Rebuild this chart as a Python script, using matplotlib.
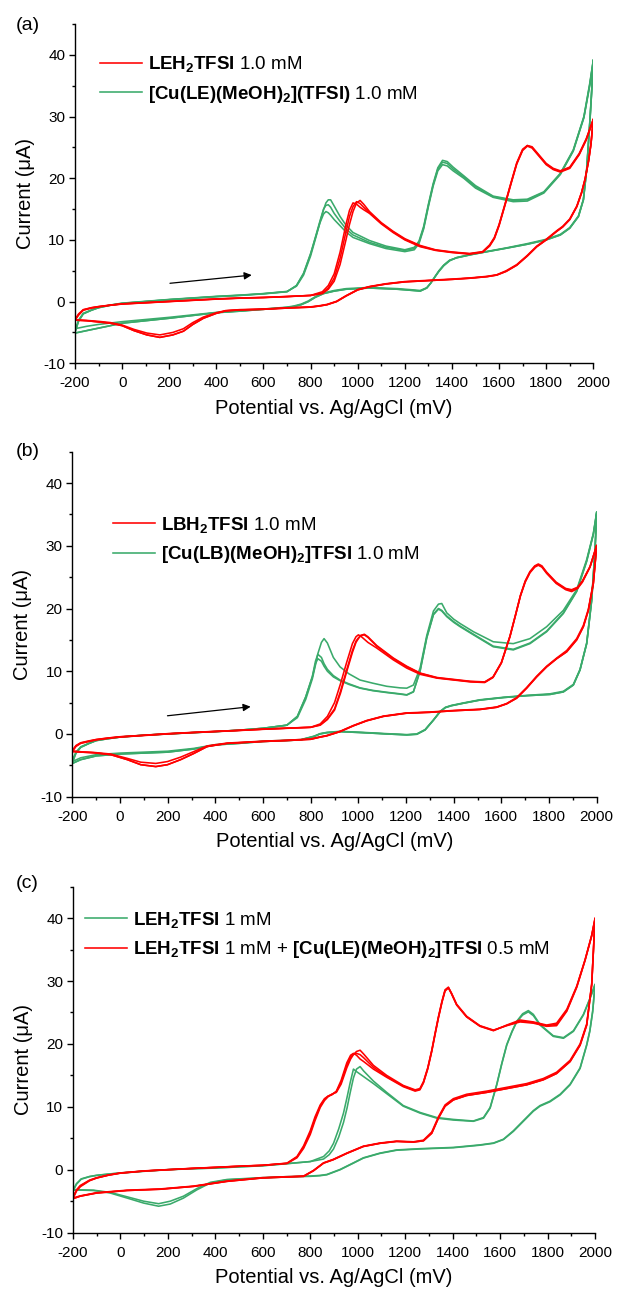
import matplotlib
matplotlib.use('Agg')
import matplotlib.pyplot as plt
from matplotlib.ticker import MultipleLocator

plt.rcParams['font.family'] = ['Liberation Sans', 'DejaVu Sans']
plt.rcParams['mathtext.fontset'] = 'custom'
plt.rcParams['mathtext.rm'] = 'Liberation Sans'
plt.rcParams['mathtext.bf'] = 'Liberation Sans:bold'
plt.rcParams['mathtext.it'] = 'Liberation Sans:italic'
plt.rcParams['axes.unicode_minus'] = False

RED = '#ff0000'
GREEN = '#3aaa6b'

# ---------- panel (a) ----------
A_RED_E_FWD = [-200, -185, -165, -130, -100, -50, 0, 100, 200, 300, 400, 500, 600, 700, 800, 850, 875, 900, 925, 950,
               965, 980, 995, 1010, 1025, 1050, 1100, 1150, 1200, 1265, 1330, 1400, 1475, 1530, 1560, 1580, 1600, 1625,
               1650, 1675, 1700, 1720, 1740, 1760, 1800, 1830, 1860, 1900, 1940, 1970, 2000]
A_RED_I_FWD_1 = [-3.0, -2.2, -1.4, -1.05, -0.85, -0.6, -0.4, -0.2, 0.0, 0.2, 0.4, 0.55, 0.65, 0.8, 1.0,
                 1.6, 2.6, 4.5, 8.0, 12.5, 14.8, 16.0, 15.8, 15.3, 14.9, 14.3, 12.6, 11.2, 10.0, 8.9, 8.3, 7.95, 7.7,
                 8.0, 9.0, 10.2, 12.3, 15.6, 19.0, 22.3, 24.5, 25.2, 24.9, 24.0, 22.2, 21.4, 21.0, 21.6, 23.8, 26.2, 29.5]
A_RED_I_FWD_2 = [-3.0, -2.1, -1.35, -1.0, -0.82, -0.58, -0.38, -0.18, 0.02, 0.22, 0.42, 0.57, 0.67, 0.82, 1.0,
                 1.4, 2.2, 3.8, 7.0, 11.3, 13.8, 15.4, 16.2, 15.9, 15.3, 14.4, 12.7, 11.3, 10.1, 9.0, 8.35, 8.0, 7.75,
                 8.05, 9.1, 10.3, 12.4, 15.7, 19.1, 22.4, 24.6, 25.3, 25.0, 24.1, 22.3, 21.5, 21.1, 21.7, 23.9, 26.3, 29.5]
A_RED_I_FWD_3 = [-2.9, -2.0, -1.3, -0.98, -0.8, -0.56, -0.36, -0.16, 0.04, 0.24, 0.44, 0.58, 0.68, 0.83, 1.0,
                 1.3, 2.0, 3.3, 6.0, 10.0, 12.5, 14.6, 16.0, 16.4, 15.8, 14.6, 12.8, 11.4, 10.2, 9.1, 8.4, 8.05, 7.8,
                 8.1, 9.2, 10.4, 12.5, 15.8, 19.2, 22.5, 24.7, 25.3, 25.1, 24.2, 22.4, 21.6, 21.2, 21.8, 24.0, 26.4, 29.6]
A_RED_E_REV = [2000, 1990, 1980, 1965, 1950, 1930, 1900, 1870, 1845, 1800, 1760, 1720, 1675, 1630, 1590, 1550, 1480,
               1400, 1300, 1200, 1120, 1050, 1000, 950, 910, 870, 840, 800, 700, 600, 500, 440, 400, 345, 300, 260,
               215, 160, 105, 50, 0, -50, -100, -150, -200]
A_RED_I_REV_1 = [29.5, 25.5, 22.8, 19.8, 17.6, 15.4, 13.3, 12.1, 11.4, 10.0, 8.9, 7.4, 5.9, 4.9, 4.3, 4.05, 3.8,
                 3.6, 3.4, 3.2, 2.85, 2.4, 1.9, 0.9, 0.0, -0.5, -0.7, -0.9, -1.05, -1.25, -1.35, -1.5, -1.9, -2.7,
                 -3.7, -4.8, -5.4, -5.8, -5.4, -4.7, -3.9, -3.5, -3.3, -3.1, -3.0]
A_RED_I_REV_2 = [29.6, 25.6, 22.9, 19.9, 17.7, 15.5, 13.4, 12.2, 11.5, 10.1, 9.0, 7.5, 6.0, 5.0, 4.35, 4.1, 3.85,
                 3.65, 3.45, 3.25, 2.9, 2.45, 1.95, 0.95, 0.05, -0.45, -0.65, -0.85, -1.0, -1.2, -1.3, -1.45, -1.8,
                 -2.5, -3.4, -4.4, -5.0, -5.4, -5.1, -4.5, -3.8, -3.4, -3.2, -3.05, -2.95]

A_GRN_E_FWD = [-200, -185, -165, -130, -100, -50, 0, 100, 200, 300, 400, 500, 600, 700, 740, 770, 800, 820, 840, 855,
               865, 875, 885, 900, 925, 950, 980, 1050, 1120, 1200, 1240, 1260, 1280, 1300, 1320, 1340, 1360, 1380,
               1405, 1450, 1500, 1575, 1660, 1720, 1790, 1860, 1915, 1960, 1985, 2000]
A_GRN_I_FWD_1 = [-5.0, -3.2, -2.0, -1.4, -1.0, -0.6, -0.3, 0.0, 0.3, 0.55, 0.8, 1.0, 1.25, 1.6,
                 2.6, 4.6, 7.8, 10.3, 12.8, 14.2, 14.6, 14.4, 14.0, 13.3, 12.3, 11.3, 10.4, 9.4, 8.6, 8.1, 8.4, 9.4,
                 11.8, 15.4, 18.7, 21.2, 22.2, 22.0, 21.2, 20.0, 18.4, 16.9, 16.2, 16.3, 17.6, 20.6, 24.4, 29.8, 35.0, 39.0]
A_GRN_I_FWD_2 = [-4.9, -3.1, -1.95, -1.38, -0.98, -0.58, -0.28, 0.02, 0.32, 0.57, 0.82, 1.02, 1.28, 1.62,
                 2.6, 4.5, 7.7, 10.4, 13.1, 15.0, 15.6, 15.7, 15.3, 14.3, 13.0, 11.8, 10.8, 9.6, 8.8, 8.3, 8.6, 9.6,
                 12.0, 15.6, 18.9, 21.5, 22.6, 22.4, 21.5, 20.2, 18.6, 17.0, 16.4, 16.5, 17.7, 20.7, 24.5, 29.9, 35.2, 39.1]
A_GRN_I_FWD_3 = [-4.8, -3.0, -1.9, -1.35, -0.95, -0.55, -0.25, 0.05, 0.35, 0.6, 0.85, 1.05, 1.3, 1.65,
                 2.5, 4.3, 7.4, 10.1, 12.9, 14.9, 16.0, 16.5, 16.5, 15.5, 13.8, 12.4, 11.2, 9.9, 9.0, 8.4, 8.8, 9.8,
                 12.2, 15.8, 19.1, 21.7, 22.9, 22.7, 21.8, 20.4, 18.8, 17.1, 16.5, 16.6, 17.8, 20.8, 24.6, 30.0, 35.4, 39.2]
A_GRN_E_REV = [2000, 1993, 1986, 1972, 1958, 1937, 1900, 1860, 1800, 1720, 1630, 1550, 1480, 1420, 1390, 1365, 1345,
               1328, 1310, 1293, 1265, 1236, 1170, 1050, 950, 900, 855, 820, 790, 760, 730, 700, 600, 500, 400, 300,
               200, 100, 0, -100, -150, -200]
A_GRN_I_REV_1 = [39.0, 34.0, 29.5, 21.4, 16.5, 13.8, 11.9, 10.8, 10.0, 9.3, 8.65, 8.1, 7.6, 7.1, 6.7, 5.9, 5.0,
                 4.05, 3.0, 2.2, 1.7, 1.8, 2.0, 2.2, 2.0, 1.7, 1.3, 0.7, 0.0, -0.5, -0.8, -0.95, -1.25, -1.55, -1.8,
                 -2.25, -2.7, -3.1, -3.5, -4.3, -4.7, -5.1]
A_GRN_I_REV_2 = [39.2, 34.2, 29.7, 21.6, 16.6, 13.9, 12.0, 10.9, 10.1, 9.4, 8.7, 8.15, 7.65, 7.15, 6.6, 5.8, 4.9,
                 4.0, 3.0, 2.25, 1.8, 1.9, 2.1, 2.3, 2.1, 1.8, 1.4, 0.8, 0.1, -0.4, -0.7, -0.9, -1.2, -1.5, -1.75,
                 -2.15, -2.55, -2.9, -3.25, -3.7, -4.0, -4.4]

# ---------- panel (b) ----------
B_RED_E_FWD = [-200, -185, -165, -130, -100, -50, 0, 100, 200, 300, 400, 500, 600, 700, 800, 840, 870, 900, 925, 950,
               975, 990, 1000, 1010, 1025, 1040, 1077, 1147, 1203, 1260, 1330, 1400, 1470, 1530, 1565, 1600, 1636,
               1660, 1680, 1700, 1720, 1740, 1755, 1770, 1790, 1830, 1870, 1895, 1920, 1940, 1972, 2000]
B_RED_I_FWD_1 = [-2.8, -2.0, -1.5, -1.2, -0.95, -0.7, -0.5, -0.25, 0.0, 0.2, 0.37, 0.55, 0.74, 0.9, 1.06,
                 1.6, 2.8, 5.0, 8.0, 11.3, 14.4, 15.5, 15.8, 15.6, 15.1, 14.6, 13.7, 11.8, 10.5, 9.5, 8.9, 8.6, 8.3,
                 8.2, 9.0, 11.3, 15.5, 19.0, 22.0, 24.2, 25.7, 26.6, 26.9, 26.6, 25.6, 24.0, 23.0, 22.7, 23.2, 24.2,
                 26.6, 30.0]
B_RED_I_FWD_2 = [-2.7, -1.9, -1.45, -1.15, -0.9, -0.66, -0.46, -0.22, 0.03, 0.22, 0.4, 0.57, 0.76, 0.92, 1.06,
                 1.4, 2.3, 3.8, 6.5, 9.8, 13.0, 14.6, 15.2, 15.7, 15.9, 15.5, 14.1, 12.1, 10.8, 9.7, 9.0, 8.7, 8.4,
                 8.3, 9.1, 11.4, 15.6, 19.1, 22.1, 24.4, 25.9, 26.8, 27.1, 26.8, 25.8, 24.2, 23.2, 23.0, 23.4, 24.4,
                 26.7, 30.1]
B_RED_I_FWD_3 = [-2.65, -1.85, -1.4, -1.1, -0.88, -0.64, -0.44, -0.2, 0.05, 0.24, 0.42, 0.58, 0.77, 0.93, 1.07,
                 1.45, 2.4, 4.0, 6.8, 10.1, 13.3, 14.8, 15.3, 15.7, 15.8, 15.4, 14.0, 12.0, 10.7, 9.65, 8.95, 8.65,
                 8.35, 8.25, 9.05, 11.35, 15.55, 19.05, 22.05, 24.3, 25.8, 26.7, 27.0, 26.7, 25.7, 24.1, 23.1, 22.9,
                 23.3, 24.3, 26.65, 30.05]
B_RED_E_REV = [2000, 1986, 1965, 1944, 1916, 1874, 1832, 1790, 1748, 1706, 1664, 1622, 1580, 1510, 1400, 1300, 1200,
               1105, 1035, 979, 923, 867, 840, 800, 700, 600, 450, 366, 310, 254, 199, 150, 87, 31, -39, -109, -160,
               -200]
B_RED_I_REV_1 = [30.0, 24.0, 19.7, 17.1, 15.0, 13.1, 12.0, 10.7, 9.1, 7.3, 5.7, 4.8, 4.25, 3.9, 3.7, 3.45, 3.3, 2.8,
                 2.1, 1.3, 0.37, -0.3, -0.5, -0.85, -1.05, -1.2, -1.5, -2.0, -3.1, -4.1, -4.9, -5.2, -4.9, -4.1,
                 -3.3, -3.0, -2.9, -2.8]
B_RED_I_REV_2 = [30.1, 24.2, 19.9, 17.3, 15.2, 13.3, 12.1, 10.8, 9.2, 7.4, 5.8, 4.85, 4.3, 3.95, 3.75, 3.5, 3.35,
                 2.85, 2.15, 1.35, 0.42, -0.25, -0.45, -0.8, -1.0, -1.15, -1.45, -1.9, -2.8, -3.7, -4.4, -4.7, -4.5,
                 -3.9, -3.2, -2.95, -2.85, -2.7]

B_GRN_E_FWD = [-200, -185, -165, -130, -100, -50, 0, 100, 200, 300, 400, 500, 600, 700, 744, 779, 807, 820, 830, 845,
               856, 870, 895, 923, 960, 1007, 1060, 1119, 1175, 1203, 1231, 1259, 1287, 1315, 1336, 1350, 1371, 1400,
               1427, 1483, 1566, 1650, 1720, 1790, 1860, 1916, 1958, 1986, 2000]
B_GRN_I_FWD_1 = [-4.4, -3.0, -2.1, -1.5, -1.05, -0.75, -0.5, -0.2, 0.0, 0.2, 0.37, 0.6, 0.9, 1.4,
                 2.8, 5.9, 9.1, 11.2, 12.0, 11.6, 10.8, 10.0, 9.1, 8.5, 7.9, 7.3, 6.9, 6.6, 6.35, 6.2, 6.7, 10.0, 15.3,
                 19.0, 19.9, 19.6, 18.7, 17.8, 17.1, 15.8, 13.9, 13.4, 14.4, 16.3, 19.2, 22.7, 27.5, 31.8, 35.2]
B_GRN_I_FWD_2 = [-4.6, -3.1, -2.15, -1.52, -1.07, -0.76, -0.5, -0.2, 0.0, 0.2, 0.38, 0.6, 0.9, 1.4,
                 2.8, 5.9, 9.2, 11.6, 12.7, 12.2, 11.2, 10.3, 9.3, 8.6, 8.0, 7.35, 6.95, 6.65, 6.4, 6.25, 6.75, 10.1,
                 15.4, 19.1, 20.0, 19.7, 18.8, 17.9, 17.2, 15.9, 14.0, 13.5, 14.5, 16.4, 19.3, 22.8, 27.6, 31.9, 35.3]
B_GRN_I_FWD_3 = [-4.2, -2.9, -2.05, -1.48, -1.03, -0.74, -0.49, -0.19, 0.01, 0.21, 0.38, 0.61, 0.91, 1.4,
                 2.6, 5.5, 8.8, 11.0, 12.8, 14.6, 15.2, 14.5, 12.2, 10.7, 9.6, 8.6, 8.1, 7.6, 7.35, 7.3, 7.8, 10.5,
                 15.7, 19.6, 20.7, 20.8, 19.3, 18.3, 17.6, 16.3, 14.7, 14.4, 15.2, 17.1, 19.7, 23.0, 27.8, 32.0, 35.4]
B_GRN_E_REV = [2000, 1993, 1979, 1958, 1930, 1902, 1860, 1804, 1706, 1608, 1510, 1441, 1390, 1365, 1343, 1315, 1280,
               1245, 1203, 1119, 1021, 923, 867, 839, 814, 758, 700, 600, 500, 400, 310, 200, 100, 0, -100, -165, -200]
B_GRN_I_REV_1 = [35.2, 29.3, 21.3, 14.4, 10.2, 7.8, 6.7, 6.3, 6.1, 5.8, 5.4, 4.9, 4.5, 4.2, 3.55, 2.2, 0.64, -0.05,
                 -0.15, 0.0, 0.2, 0.37, 0.2, 0.0, -0.4, -0.95, -1.05, -1.2, -1.5, -1.75, -2.4, -2.9, -3.05, -3.2,
                 -3.5, -4.1, -4.7]
B_GRN_I_REV_2 = [35.4, 29.5, 21.5, 14.5, 10.3, 7.9, 6.8, 6.4, 6.15, 5.85, 5.45, 4.95, 4.55, 4.25, 3.6, 2.25, 0.7,
                 0.0, -0.1, 0.05, 0.25, 0.42, 0.25, 0.05, -0.35, -0.9, -1.0, -1.15, -1.45, -1.7, -2.3, -2.75, -2.9,
                 -3.05, -3.3, -3.8, -4.4]

# ---------- panel (c) ----------
C_GRN_E_FWD = [-200, -185, -165, -130, -100, -50, 0, 100, 200, 300, 400, 500, 600, 700, 800, 856, 880, 898, 920, 940,
               955, 968, 982, 995, 1010, 1025, 1066, 1122, 1192, 1263, 1333, 1403, 1487, 1530, 1558, 1586, 1607, 1628,
               1650, 1670, 1695, 1719, 1740, 1768, 1824, 1867, 1909, 1951, 1979, 2000]
C_GRN_I_FWD_1 = [-3.4, -2.3, -1.5, -1.1, -0.9, -0.7, -0.53, -0.25, 0.0, 0.15, 0.26, 0.45, 0.63, 0.95, 1.3,
                 2.1, 3.0, 4.2, 6.5, 9.0, 11.5, 13.8, 16.0, 15.6, 15.2, 14.8, 13.7, 12.1, 10.1, 9.0, 8.2, 7.9, 7.7,
                 8.2, 9.8, 13.5, 16.8, 19.8, 21.9, 23.5, 24.6, 25.1, 24.5, 23.0, 21.2, 20.9, 22.0, 24.6, 27.2, 29.4]
C_GRN_I_FWD_2 = [-3.3, -2.2, -1.45, -1.07, -0.88, -0.68, -0.5, -0.22, 0.02, 0.17, 0.28, 0.47, 0.65, 0.97, 1.3,
                 1.7, 2.4, 3.3, 5.2, 7.5, 9.8, 12.2, 14.6, 16.0, 16.4, 15.7, 14.1, 12.3, 10.2, 9.1, 8.3, 8.0, 7.75,
                 8.3, 9.9, 13.6, 16.9, 19.9, 22.0, 23.6, 24.8, 25.3, 24.7, 23.1, 21.3, 21.0, 22.1, 24.7, 27.3, 29.5]
C_GRN_E_REV = [2000, 1990, 1978, 1965, 1937, 1895, 1853, 1810, 1768, 1740, 1698, 1656, 1614, 1572, 1515, 1403, 1263,
               1164, 1094, 1024, 982, 926, 870, 841, 800, 700, 600, 449, 379, 322, 266, 210, 161, 98, 28, -43, -113,
               -160, -200]
C_GRN_I_REV_1 = [29.4, 25.1, 22.0, 19.8, 16.1, 13.5, 11.9, 10.8, 10.1, 9.3, 7.7, 6.1, 4.8, 4.2, 3.9, 3.5, 3.3, 3.1,
                 2.6, 1.85, 1.05, 0.0, -0.8, -0.95, -1.05, -1.15, -1.3, -1.6, -2.1, -3.2, -4.5, -5.45, -5.8, -5.3,
                 -4.5, -3.7, -3.3, -3.25, -3.2]
C_GRN_I_REV_2 = [29.5, 25.2, 22.1, 19.9, 16.2, 13.6, 12.0, 10.9, 10.2, 9.4, 7.8, 6.2, 4.85, 4.25, 3.95, 3.55, 3.35,
                 3.15, 2.65, 1.9, 1.1, 0.05, -0.75, -0.9, -1.0, -1.1, -1.25, -1.55, -2.0, -3.0, -4.2, -5.0, -5.4,
                 -5.0, -4.3, -3.6, -3.25, -3.2, -3.15]

C_RED_E_FWD = [-200, -185, -169, -130, -100, -50, 0, 100, 200, 300, 400, 500, 600, 702, 744, 772, 800, 820, 842, 860,
               875, 891, 910, 930, 954, 970, 982, 995, 1010, 1025, 1066, 1122, 1192, 1242, 1262, 1277, 1295, 1312,
               1326, 1340, 1355, 1368, 1382, 1395, 1417, 1459, 1515, 1572, 1628, 1684, 1740, 1796, 1838, 1881, 1923,
               1958, 1986, 2000]
C_RED_I_FWD_1 = [-4.5, -3.3, -2.6, -1.7, -1.3, -0.85, -0.53, -0.2, 0.0, 0.2, 0.37, 0.55, 0.7, 1.05, 2.1, 3.8, 6.2,
                 8.4, 10.3, 11.3, 11.7, 11.9, 12.5, 14.2, 17.0, 18.2, 18.5, 18.2, 17.6, 17.2, 16.0, 14.7, 13.2, 12.5,
                 12.7, 13.8, 16.0, 18.8, 21.5, 24.1, 26.6, 28.4, 28.9, 28.0, 26.2, 24.3, 22.8, 22.1, 23.0, 23.8, 23.5,
                 23.0, 23.3, 25.5, 29.2, 33.4, 37.3, 40.0]
C_RED_I_FWD_2 = [-4.4, -3.2, -2.5, -1.65, -1.27, -0.83, -0.51, -0.18, 0.02, 0.22, 0.39, 0.57, 0.72, 1.0, 1.9, 3.4,
                 5.6, 7.8, 9.9, 11.0, 11.6, 12.0, 12.3, 13.6, 16.2, 17.6, 18.3, 18.8, 19.0, 18.4, 16.6, 15.0, 13.4,
                 12.7, 12.9, 14.0, 16.2, 19.0, 21.7, 24.3, 26.8, 28.6, 29.0, 28.1, 26.3, 24.4, 22.9, 22.2, 22.9, 23.5,
                 23.3, 22.8, 22.9, 25.2, 29.0, 33.3, 37.2, 39.8]
C_RED_I_FWD_3 = [-4.6, -3.4, -2.7, -1.75, -1.32, -0.87, -0.55, -0.21, 0.0, 0.2, 0.37, 0.55, 0.7, 1.02, 2.0, 3.6,
                 5.9, 8.1, 10.1, 11.2, 11.7, 12.0, 12.4, 13.9, 16.6, 17.9, 18.4, 18.5, 18.3, 17.8, 16.3, 14.8, 13.3,
                 12.6, 12.8, 13.9, 16.1, 18.9, 21.6, 24.2, 26.7, 28.5, 29.0, 28.0, 26.2, 24.3, 22.85, 22.15, 22.95,
                 23.6, 23.4, 22.9, 23.1, 25.3, 29.1, 33.3, 37.2, 39.9]
C_RED_E_REV = [2000, 1986, 1965, 1937, 1895, 1838, 1782, 1712, 1628, 1544, 1459, 1403, 1368, 1340, 1312, 1277, 1235,
               1164, 1094, 1024, 954, 897, 856, 814, 772, 702, 600, 449, 308, 168, 28, -100, -169, -200]
C_RED_I_REV_1 = [40.0, 29.4, 23.0, 19.8, 17.2, 15.3, 14.3, 13.5, 12.9, 12.3, 11.8, 11.1, 10.1, 8.2, 5.8, 4.6, 4.4,
                 4.5, 4.2, 3.7, 2.6, 1.6, 1.05, -0.15, -1.05, -1.15, -1.3, -1.85, -2.65, -3.1, -3.3, -3.7, -4.2, -4.6]
C_RED_I_REV_2 = [39.8, 29.6, 23.2, 20.0, 17.4, 15.5, 14.5, 13.7, 13.1, 12.5, 12.0, 11.3, 10.3, 8.4, 6.0, 4.7, 4.45,
                 4.55, 4.25, 3.75, 2.65, 1.65, 1.1, -0.1, -1.0, -1.1, -1.25, -1.8, -2.6, -3.05, -3.25, -3.65, -4.15,
                 -4.5]

# sweep direction arrows (start, end) in mV / uA
ARROW_A = [(203, 2.97), (550, 4.3)]
ARROW_B = [(199, 2.9), (548, 4.35)]

LABELS_A = [r'$\mathbf{LEH_2TFSI}$ 1.0 mM', r'$\mathbf{[Cu(LE)(MeOH)_2](TFSI)}$ 1.0 mM']
LABELS_B = [r'$\mathbf{LBH_2TFSI}$ 1.0 mM', r'$\mathbf{[Cu(LB)(MeOH)_2]TFSI}$ 1.0 mM']
LABELS_C = [r'$\mathbf{LEH_2TFSI}$ 1 mM',
            r'$\mathbf{LEH_2TFSI}$ 1 mM + $\mathbf{[Cu(LE)(MeOH)_2]TFSI}$ 0.5 mM']


def draw_cv(ax, e_fwd, fwd_cycles, e_rev, rev_cycles, color):
    first = None
    for k, i_fwd in enumerate(fwd_cycles):
        i_rev = rev_cycles[k % len(rev_cycles)]
        assert len(i_fwd) == len(e_fwd), ('fwd', color, k, len(i_fwd), len(e_fwd))
        assert len(i_rev) == len(e_rev), ('rev', color, k, len(i_rev), len(e_rev))
        ln, = ax.plot(list(e_fwd) + list(e_rev), list(i_fwd) + list(i_rev), color=color, lw=1.15,
                      solid_joinstyle='round')
        if first is None:
            first = ln
    return first


def style_axes(ax):
    ax.set_xlim(-200, 2000)
    ax.set_ylim(-10, 45)
    ax.xaxis.set_major_locator(MultipleLocator(200))
    ax.xaxis.set_minor_locator(MultipleLocator(100))
    ax.yaxis.set_major_locator(MultipleLocator(10))
    ax.yaxis.set_minor_locator(MultipleLocator(5))
    for s in ['top', 'right']:
        ax.spines[s].set_visible(False)
    for s in ['left', 'bottom']:
        ax.spines[s].set_linewidth(1.0)
    ax.tick_params(which='major', direction='out', length=4, width=1.0, labelsize=11)
    ax.tick_params(which='minor', direction='out', length=2.3, width=1.0)
    ax.tick_params(axis='x', which='major', pad=5.5)
    ax.tick_params(axis='y', which='major', pad=3)
    ax.set_xlabel('Potential vs. Ag/AgCl (mV)', fontsize=14.5, labelpad=6)
    ax.set_ylabel('Current (\u03bcA)', fontsize=14.5, labelpad=6)


def add_arrow(ax, pts):
    ax.annotate('', xy=pts[1], xytext=pts[0],
                arrowprops=dict(arrowstyle='-|>', color='black', lw=0.9, mutation_scale=11,
                                shrinkA=0, shrinkB=0))


def add_legend(ax, handles, labels, anchor):
    ax.legend(handles, labels, loc='upper left', bbox_to_anchor=anchor, frameon=False, fontsize=13.5,
              handlelength=2.25, handletextpad=0.33, labelspacing=0.5, borderpad=0, borderaxespad=0)


fig = plt.figure(figsize=(6.17, 12.91), dpi=100)
ax_a = fig.add_axes([0.1216, 0.7186, 0.8400, 0.2628])
ax_b = fig.add_axes([0.1173, 0.3829, 0.8498, 0.2672])
ax_c = fig.add_axes([0.1182, 0.0452, 0.8462, 0.2680])

# (a)
g = draw_cv(ax_a, A_GRN_E_FWD, [A_GRN_I_FWD_1, A_GRN_I_FWD_2, A_GRN_I_FWD_3],
            A_GRN_E_REV, [A_GRN_I_REV_1, A_GRN_I_REV_2], GREEN)
r = draw_cv(ax_a, A_RED_E_FWD, [A_RED_I_FWD_1, A_RED_I_FWD_2, A_RED_I_FWD_3],
            A_RED_E_REV, [A_RED_I_REV_1, A_RED_I_REV_2], RED)
style_axes(ax_a)
add_arrow(ax_a, ARROW_A)
add_legend(ax_a, [r, g], LABELS_A, (0.048, 0.911))

# (b)
g = draw_cv(ax_b, B_GRN_E_FWD, [B_GRN_I_FWD_1, B_GRN_I_FWD_2, B_GRN_I_FWD_3],
            B_GRN_E_REV, [B_GRN_I_REV_1, B_GRN_I_REV_2], GREEN)
r = draw_cv(ax_b, B_RED_E_FWD, [B_RED_I_FWD_1, B_RED_I_FWD_2, B_RED_I_FWD_3],
            B_RED_E_REV, [B_RED_I_REV_1, B_RED_I_REV_2], RED)
style_axes(ax_b)
add_arrow(ax_b, ARROW_B)
add_legend(ax_b, [r, g], LABELS_B, (0.0774, 0.8165))

# (c)
g = draw_cv(ax_c, C_GRN_E_FWD, [C_GRN_I_FWD_1, C_GRN_I_FWD_2],
            C_GRN_E_REV, [C_GRN_I_REV_1, C_GRN_I_REV_2], GREEN)
r = draw_cv(ax_c, C_RED_E_FWD, [C_RED_I_FWD_1, C_RED_I_FWD_2, C_RED_I_FWD_3],
            C_RED_E_REV, [C_RED_I_REV_1, C_RED_I_REV_2], RED)
style_axes(ax_c)
add_legend(ax_c, [g, r], LABELS_C, (0.0232, 0.9325))

for lab, ypix in [('(a)', 25), ('(b)', 451), ('(c)', 884)]:
    fig.text(16 / 617, 1 - ypix / 1291, lab, fontsize=14, ha='left', va='center')

fig.savefig('out.png', dpi=100)
